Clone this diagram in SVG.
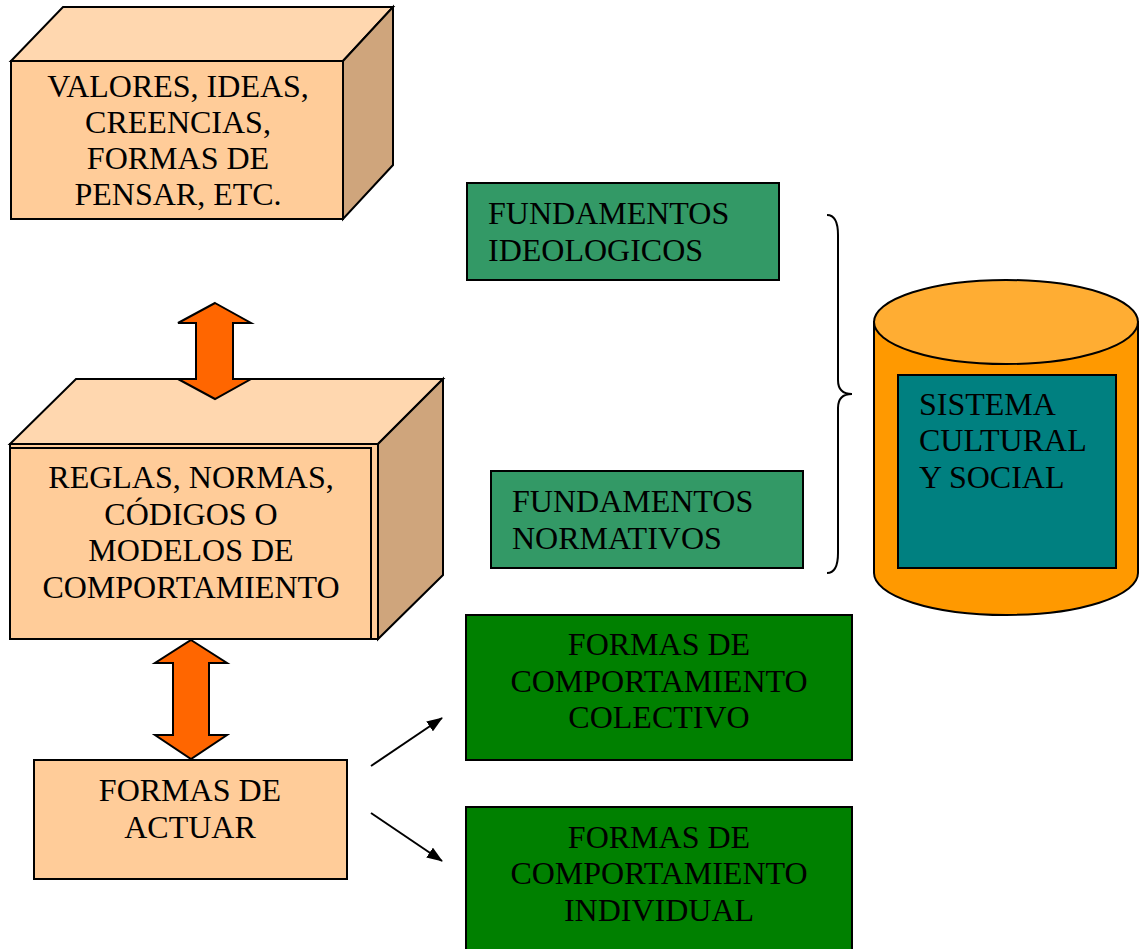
<svg xmlns="http://www.w3.org/2000/svg" width="1139" height="949" viewBox="0 0 1139 949">
  <style>
    .lbl { font-family: "Liberation Serif", "Times New Roman", serif; font-size: 32px; fill: #000; }
    .mid { text-anchor: middle; }
    .edge { stroke: #000; stroke-width: 2; stroke-linejoin: miter; }
    .front { fill: #FFCC99; }
    .top { fill: #FFD7AF; }
    .side { fill: #CFA57C; }
    .dbl { fill: #FF6600; stroke: #000; stroke-width: 2; }
    .fund { fill: #339966; stroke: #000; stroke-width: 2; }
    .forma { fill: #008000; stroke: #000; stroke-width: 2; }
    .conn { stroke: #000; stroke-width: 2; fill: none; }
  </style>
  <defs>
    <marker id="head" viewBox="0 0 16 12" refX="15" refY="6" markerWidth="16" markerHeight="12" markerUnits="userSpaceOnUse" orient="auto">
      <path d="M0,0 L16,6 L0,12 Z" fill="#000"/>
    </marker>
  </defs>

  <rect width="1139" height="949" fill="#fff"/>

  <!-- cube: values and ideas -->
  <g id="valores">
    <polygon class="top edge" points="11,61 63,7 393,7 343,61"/>
    <polygon class="side edge" points="343,61 393,7 393,165 343,219"/>
    <rect class="front edge" x="11" y="61" width="332" height="158"/>
    <text class="lbl mid" x="178" y="97">VALORES, IDEAS,</text>
    <text class="lbl mid" x="178" y="133">CREENCIAS,</text>
    <text class="lbl mid" x="178" y="169">FORMAS DE</text>
    <text class="lbl mid" x="178" y="205">PENSAR, ETC.</text>
  </g>

  <!-- cube: rules and norms -->
  <g id="reglas">
    <polygon class="top edge" points="10,444 76,379 443,379 378,444"/>
    <polygon class="side edge" points="378,444 443,379 443,575 378,639"/>
    <rect class="front edge" x="10" y="444" width="368" height="195"/>
    <polyline class="edge" fill="none" stroke-width="1.5" points="10,448 371,448 371,639"/>
    <text class="lbl mid" x="191" y="488">REGLAS, NORMAS,</text>
    <text class="lbl mid" x="191" y="525">CÓDIGOS O</text>
    <text class="lbl mid" x="191" y="561">MODELOS DE</text>
    <text class="lbl mid" x="191" y="598">COMPORTAMIENTO</text>
  </g>

  <!-- ways of acting -->
  <g id="actuar">
    <rect class="front edge" x="34" y="760" width="313" height="119"/>
    <text class="lbl mid" x="190" y="801">FORMAS DE</text>
    <text class="lbl mid" x="190" y="838">ACTUAR</text>
  </g>

  <!-- foundations -->
  <g id="ideologicos">
    <rect class="fund" x="467" y="183" width="312" height="97"/>
    <text class="lbl" x="488" y="224">FUNDAMENTOS</text>
    <text class="lbl" x="488" y="261">IDEOLOGICOS</text>
  </g>
  <g id="normativos">
    <rect class="fund" x="491" y="471" width="312" height="97"/>
    <text class="lbl" x="512" y="512">FUNDAMENTOS</text>
    <text class="lbl" x="512" y="549">NORMATIVOS</text>
  </g>

  <!-- behaviour forms -->
  <g id="colectivo">
    <rect class="forma" x="466" y="615" width="386" height="145"/>
    <text class="lbl mid" x="659" y="655">FORMAS DE</text>
    <text class="lbl mid" x="659" y="692">COMPORTAMIENTO</text>
    <text class="lbl mid" x="659" y="728">COLECTIVO</text>
  </g>
  <g id="individual">
    <rect class="forma" x="466" y="807" width="386" height="160"/>
    <text class="lbl mid" x="659" y="848">FORMAS DE</text>
    <text class="lbl mid" x="659" y="884">COMPORTAMIENTO</text>
    <text class="lbl mid" x="659" y="921">INDIVIDUAL</text>
  </g>

  <!-- cultural and social system -->
  <g id="sistema">
    <path d="M874,322 L874,573 A132,42 0 0 0 1138,573 L1138,322 Z" fill="#FF9900" stroke="#000" stroke-width="2"/>
    <ellipse cx="1006" cy="322" rx="132" ry="42" fill="#FFAD33" stroke="#000" stroke-width="2"/>
    <rect x="898" y="375" width="218" height="193" fill="#008080" stroke="#000" stroke-width="2"/>
    <text class="lbl" x="919" y="415">SISTEMA</text>
    <text class="lbl" x="919" y="451">CULTURAL</text>
    <text class="lbl" x="919" y="488">Y SOCIAL</text>
  </g>

  <g id="connectors">
    <!-- two-way block arrows -->
    <polygon class="dbl" points="215,303 251,323 233,323 233,379 251,379 215,399 178,379 196,379 196,323 178,323"/>
    <polygon class="dbl" points="191,640 227,663 209,663 209,735 227,735 191,759 155,735 173,735 173,663 155,663"/>
    <!-- arrows to behaviour forms -->
    <line class="conn" x1="371" y1="766" x2="442" y2="718" marker-end="url(#head)"/>
    <line class="conn" x1="371" y1="813" x2="442" y2="861" marker-end="url(#head)"/>
    <!-- brace grouping the foundations -->
    <path class="conn" stroke-width="1.5" d="M827,215 C835,215 838,222 838,235 L838,380 C838,390 843,394 852,394 C843,394 838,398 838,408 L838,553 C838,566 835,573 827,573"/>
  </g>
</svg>
